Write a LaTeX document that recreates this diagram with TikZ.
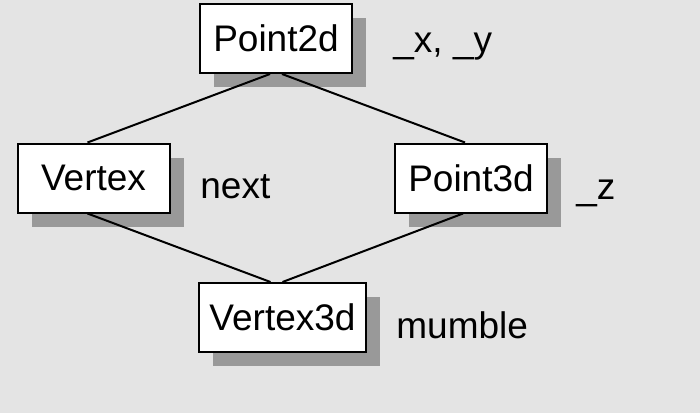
\documentclass[tikz,border=0pt]{standalone}
\usepackage{fontspec}
\setmainfont{Liberation Sans}
\usetikzlibrary{shadows,positioning}
\definecolor{bgcol}{HTML}{E4E4E4}
\definecolor{shadowcol}{HTML}{999999}

\begin{document}
\begin{tikzpicture}[x=0.5pt,y=-0.5pt]
    \tikzstyle{cls} = [rectangle, draw, line width=1pt, fill=white,
               minimum width=76pt, minimum height=34.5pt, inner sep=2pt,
               font=\fontsize{18.5}{22}\selectfont,
               drop shadow={fill=shadowcol, opacity=1,
                 shadow xshift=7pt, shadow yshift=-7pt}]
    \tikzstyle{attr} = [anchor=base west, inner sep=0pt,
               font=\fontsize{18.5}{22}\selectfont]
    \tikzstyle{line} = [draw, line width=1pt]

    \useasboundingbox [fill=bgcol] (0,0) rectangle (700,413);

    % classes
    \node [cls] (p2d) at (276,38.5) {Point2d};
    \node [cls] (vtx) at (93.5,178) {Vertex};
    \node [cls] (p3d) at (471,178) {Point3d};
    \node [cls, minimum width=83.5pt] (v3d) at (282.5,317.5) {Vertex3d};

    % members
    \node [attr] (p2dattr) at (393,52) {\_x, \_y};
    \node [attr] (vtxattr) at (200,198) {next};
    \node [attr] (p3dattr) at (576,199) {\_z};
    \node [attr] (v3dattr) at (396,338) {mumble};

    % inheritance
    \draw [line] ([xshift=-3pt]p2d.south) -- ([xshift=-3pt]vtx.north);
    \draw [line] ([xshift=3pt]p2d.south) -- ([xshift=-3pt]p3d.north);
    \draw [line] ([xshift=-3pt]vtx.south) -- ([xshift=-6pt]v3d.north);
    \draw [line] ([xshift=-4pt]p3d.south) -- ([xshift=0pt]v3d.north);

\end{tikzpicture}
\end{document}
